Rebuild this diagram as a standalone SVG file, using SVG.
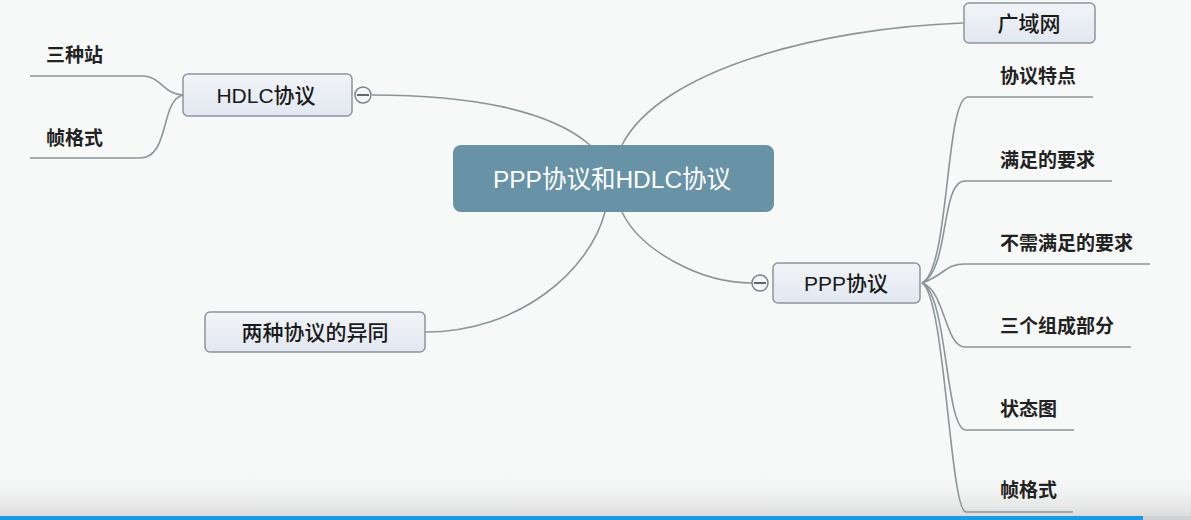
<svg xmlns="http://www.w3.org/2000/svg" width="1191" height="520" viewBox="0 0 1191 520">
<defs>
<linearGradient id="ng" x1="0" y1="0" x2="0" y2="1">
<stop offset="0" stop-color="#f1f4f8"/>
<stop offset="1" stop-color="#e2e8f0"/>
</linearGradient>
<linearGradient id="bg2" x1="0" y1="0" x2="0" y2="1">
<stop offset="0" stop-color="#f7f8f8" stop-opacity="0"/>
<stop offset="1" stop-color="#dcdcdc"/>
</linearGradient>
<style>
.node{fill:url(#ng);stroke:#8c959c;stroke-width:1.5}
.t{font-family:"Liberation Sans","Noto Sans CJK SC",sans-serif;fill:#1a1a1a;text-anchor:middle}
.nt{font-size:21px;font-weight:500}
.lt{font-size:19px;text-anchor:start;font-weight:600;fill:#222}
.c{fill:none;stroke:#8a9699;stroke-width:1.6}
.tog{fill:#f3f5f6;stroke:#7a8388;stroke-width:1.5}
</style>
</defs>
<rect x="0" y="0" width="1191" height="520" fill="#f7f8f8"/>
<rect x="0" y="470" width="1191" height="46" fill="url(#bg2)"/>
<rect x="0" y="516" width="1143" height="4" fill="#1a9be8"/>
<rect x="1143" y="516" width="48" height="4" fill="#cfd3d6"/>

<g id="connectors">
<path class="c" d="M372,95 C470,95 550,110 590,145"/>
<path class="c" d="M963,23 C820,28 660,70 622,145"/>
<path class="c" d="M605,212 C590,270 520,332 425,332"/>
<path class="c" d="M622,212 C640,250 700,283 752,283"/>
<path class="c" d="M183,95 C165,95 160,76 143,76 L30,76"/>
<path class="c" d="M183,95 C160,100 170,158 140,158 L30,158"/>
<path class="c" d="M922,283 C950,270 945,97 968,97 L1093,97"/>
<path class="c" d="M922,283 C950,270 940,181 965,181 L1112,181"/>
<path class="c" d="M922,283 C945,275 945,264 965,264 L1150,264"/>
<path class="c" d="M922,283 C945,290 945,347 965,347 L1131,347"/>
<path class="c" d="M922,283 C948,295 945,430 966,430 L1074,430"/>
<path class="c" d="M922,283 C945,295 950,512 966,512 L1073,512"/>
</g>

<g id="central">
<rect x="453" y="145" width="321" height="67" rx="8" fill="#6893a6"/>
<text class="t" x="612" y="188" font-size="24.5" style="fill:#ffffff">PPP协议和HDLC协议</text>
</g>

<g id="hdlc">
<rect class="node" x="183" y="74" width="169" height="42" rx="5"/>
<text class="t nt" x="266" y="103">HDLC协议</text>
<circle class="tog" cx="363" cy="95" r="8"/>
<line x1="357" y1="95" x2="369" y2="95" stroke="#5e676c" stroke-width="2"/>
</g>

<g id="wan">
<rect class="node" x="964" y="3" width="131" height="40" rx="5"/>
<text class="t nt" x="1029" y="31">广域网</text>
</g>

<g id="ppp">
<rect class="node" x="773" y="263" width="147" height="40" rx="5"/>
<text class="t nt" x="846" y="291">PPP协议</text>
<circle class="tog" cx="760" cy="283" r="8"/>
<line x1="754" y1="283" x2="766" y2="283" stroke="#5e676c" stroke-width="2"/>
</g>

<g id="compare">
<rect class="node" x="205" y="312" width="220" height="40" rx="5"/>
<text class="t nt" x="315" y="340">两种协议的异同</text>
</g>

<g id="l-stations"><text class="t lt" x="46" y="62">三种站</text></g>
<g id="l-frame"><text class="t lt" x="46" y="145">帧格式</text></g>
<g id="r-features"><text class="t lt" x="1000" y="83">协议特点</text></g>
<g id="r-req"><text class="t lt" x="1000" y="167">满足的要求</text></g>
<g id="r-noreq"><text class="t lt" x="1000" y="250">不需满足的要求</text></g>
<g id="r-parts"><text class="t lt" x="1000" y="333">三个组成部分</text></g>
<g id="r-state"><text class="t lt" x="1000" y="416">状态图</text></g>
<g id="r-frame"><text class="t lt" x="1000" y="497">帧格式</text></g>
</svg>
